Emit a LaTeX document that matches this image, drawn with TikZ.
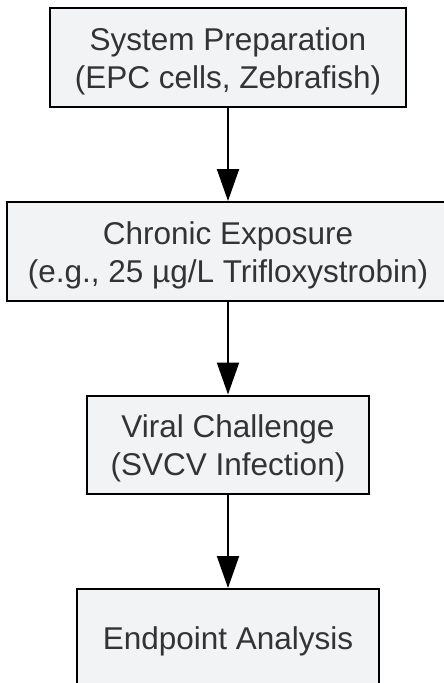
\documentclass[tikz,border=0pt]{standalone}
\usepackage{fontspec}
\setmainfont{Liberation Sans}
\usetikzlibrary{arrows.meta}
\definecolor{boxfill}{HTML}{F2F3F5}
\definecolor{txt}{HTML}{333333}
\tikzset{
  stagebox/.style={draw=black, line width=2pt, fill=boxfill, inner sep=0pt, minimum height=99pt},
  stagetext/.style={text=txt, inner sep=0pt, align=center, font=\fontsize{31.5}{38}\selectfont},
  flow/.style={draw=black, line width=2pt, -{Triangle[length=32pt,width=22pt]}, shorten >=0pt}
}
\begin{document}
\begin{tikzpicture}[x=1pt,y=-1pt]
\useasboundingbox (0,0) rectangle (444,683);
\clip (0,0) rectangle (444,683);
\node[stagebox, minimum width=356pt] (prep) at (228,57.5) {};
\node[stagebox, minimum width=442pt] (expo) at (228,251.5) {};
\node[stagebox, minimum width=282pt, minimum height=98pt] (viral) at (228,444.5) {};
\node[stagebox, minimum width=302pt] (end) at (228,638.5) {};
\node[stagetext] (prept) at ([yshift=-3.5pt]prep.center) {System Preparation\\(EPC cells, Zebrafish)};
\node[stagetext] (expot) at ([yshift=-3.5pt]expo.center) {Chronic Exposure\\(e.g., 25 µg/L Trifloxystrobin)};
\node[stagetext] (viralt) at ([yshift=-3.5pt]viral.center) {Viral Challenge\\(SVCV Infection)};
\node[stagetext] (endt) at ([yshift=-3pt]end.center) {Endpoint Analysis};
\draw[flow] (prep) -- (expo);
\draw[flow] (expo) -- (viral);
\draw[flow] (viral) -- (end);
\end{tikzpicture}
\end{document}
